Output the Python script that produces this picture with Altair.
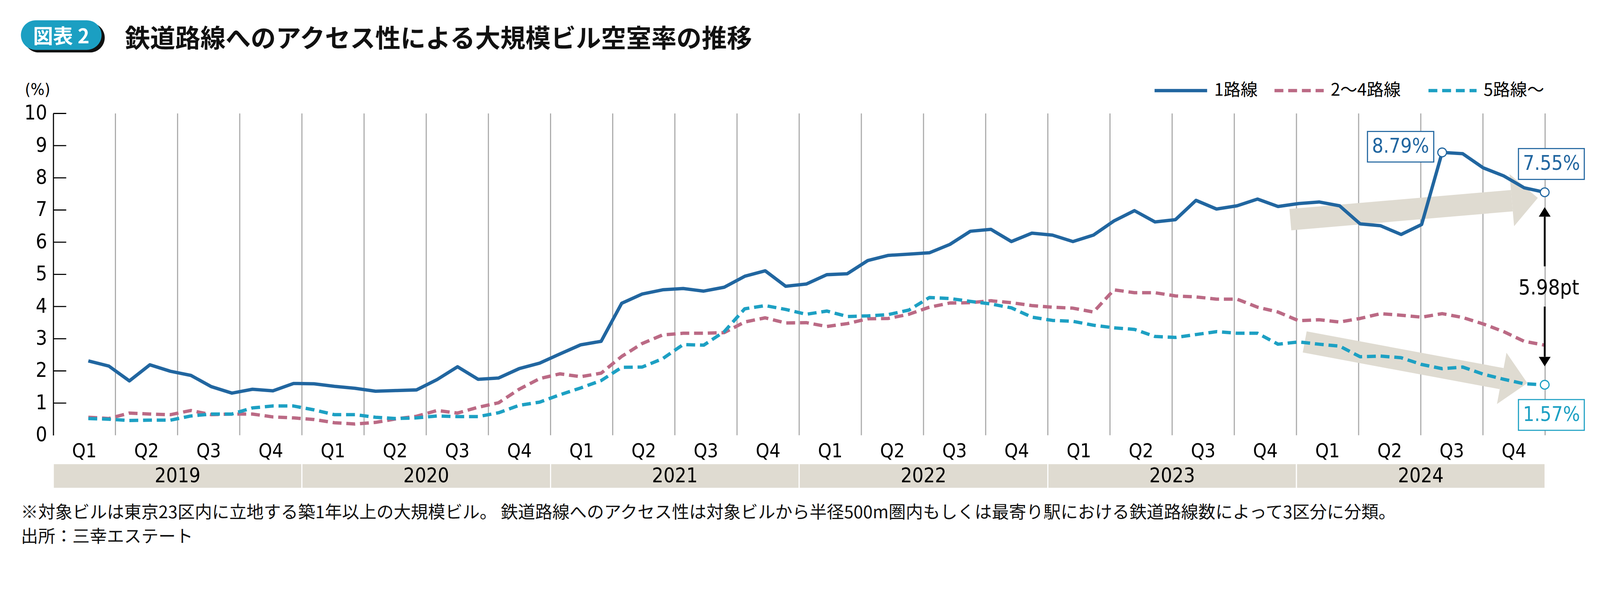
import altair as alt
import pandas as pd

# ---------------- data ----------------
months = list(range(72))  # Jan 2019 ... Dec 2024 (month index)

line1 = [2.31, 2.15, 1.69, 2.19, 1.99, 1.86, 1.51, 1.31, 1.43, 1.38, 1.61, 1.60,
         1.52, 1.46, 1.37, 1.39, 1.41, 1.73, 2.13, 1.74, 1.78, 2.07, 2.24, 2.53,
         2.81, 2.92, 4.10, 4.39, 4.52, 4.56, 4.48, 4.60, 4.94, 5.11, 4.63, 4.70,
         4.99, 5.02, 5.43, 5.59, 5.63, 5.67, 5.93, 6.34, 6.40, 6.02, 6.28, 6.22,
         6.02, 6.22, 6.66, 6.98, 6.63, 6.70, 7.30, 7.03, 7.13, 7.34, 7.11, 7.20,
         7.25, 7.13, 6.57, 6.51, 6.24, 6.55, 8.79, 8.75, 8.31, 8.06, 7.69, 7.55]

line2_4 = [0.56, 0.52, 0.69, 0.66, 0.64, 0.77, 0.64, 0.66, 0.66, 0.57, 0.54, 0.49,
           0.39, 0.35, 0.40, 0.51, 0.59, 0.77, 0.69, 0.87, 1.01, 1.43, 1.76, 1.91,
           1.82, 1.93, 2.45, 2.85, 3.12, 3.17, 3.17, 3.19, 3.52, 3.65, 3.49, 3.50,
           3.38, 3.47, 3.62, 3.63, 3.76, 3.98, 4.11, 4.12, 4.18, 4.12, 4.03, 3.98,
           3.95, 3.83, 4.52, 4.43, 4.43, 4.33, 4.30, 4.23, 4.23, 3.98, 3.83, 3.56,
           3.59, 3.52, 3.63, 3.78, 3.73, 3.67, 3.78, 3.66, 3.46, 3.22, 2.92, 2.80]

line5 = [0.52, 0.50, 0.46, 0.47, 0.47, 0.60, 0.66, 0.66, 0.85, 0.91, 0.91, 0.79,
         0.64, 0.64, 0.56, 0.52, 0.54, 0.60, 0.58, 0.58, 0.70, 0.93, 1.03, 1.26,
         1.47, 1.70, 2.11, 2.12, 2.38, 2.82, 2.80, 3.22, 3.93, 4.03, 3.91, 3.76,
         3.86, 3.69, 3.71, 3.75, 3.89, 4.28, 4.25, 4.16, 4.08, 3.96, 3.67, 3.57,
         3.54, 3.42, 3.34, 3.29, 3.07, 3.04, 3.13, 3.22, 3.17, 3.17, 2.83, 2.90,
         2.83, 2.77, 2.44, 2.46, 2.41, 2.20, 2.07, 2.12, 1.90, 1.74, 1.60, 1.57]

series_names = ["1路線", "2～4路線", "5路線～"]
quarter_labels = ["Q1", "Q2", "Q3", "Q4"] * 6
quarter_centers = [k + 0.5 for k in range(24)]
quarter_bounds = list(range(1, 25))
years = ["2019", "2020", "2021", "2022", "2023", "2024"]
year_start = [0, 4, 8, 12, 16, 20]
year_end = [4, 8, 12, 16, 20, 24]
year_center = [2, 6, 10, 14, 18, 22]
y_ticks = list(range(0, 11))

# highlighted points / labels
hl_month = [66, 71, 71]
hl_value = [8.79, 7.55, 1.57]
hl_text = ["8.79%", "7.55%", "1.57%"]
gap_text = "5.98pt"

title_text = "鉄道路線へのアクセス性による大規模ビル空室率の推移"
badge_text = "図表 2"
note_text = ("※対象ビルは東京23区内に立地する築1年以上の大規模ビル。 "
             "鉄道路線へのアクセス性は対象ビルから半径500m圏内もしくは最寄り駅における鉄道路線数によって3区分に分類。")
source_text = "出所：三幸エステート"

# ---------------- styles ----------------
W, H = 4146.5, 869.7
BLUE, PINK, CYAN = "#2166a0", "#bb6a85", "#1da0c3"
BEIGE = "#dfdbd1"
GRID = "#a9a9a9"
NUM_FONT = "Liberation Sans Narrow, DejaVu Sans Condensed, Roboto, sans-serif"
JP_FONT = "Noto Sans CJK JP, Noto Sans, sans-serif"
DASH = [24, 13]

mscale = alt.Scale(domain=[-1.709, 73.11], nice=False, zero=False)
qscale = alt.Scale(domain=[0, 24.69], nice=False, zero=False)
yscale = alt.Scale(domain=[0, 10], nice=False, zero=False)

Y_AXIS = alt.Axis(
    values=y_ticks, title="(%)", titleAngle=0, titleX=-43, titleY=-64,
    titleAlign="center", titleBaseline="middle", titleFontSize=44,
    titleFont=NUM_FONT, titleFontWeight="normal", titleColor="black",
    labelFont=NUM_FONT, labelFontSize=54, labelColor="black", labelPadding=17,
    ticks=False, domain=True, domainColor="black", domainWidth=3, grid=False)


def MX(f):
    return alt.X(f, type="quantitative", scale=mscale, axis=None)


def QX(f):
    return alt.X(f, type="quantitative", scale=qscale, axis=None)


def VY(f):
    return alt.Y(f, type="quantitative", scale=yscale, axis=Y_AXIS)


one = pd.DataFrame({"a": [0]})
layers = []

# year bands
band_df = pd.DataFrame({"q0": year_start, "q1": year_end, "qc": year_center, "year": years})
layers.append(alt.Chart(band_df).mark_rect(fill=BEIGE, stroke="white", strokeWidth=3).encode(
    x=QX("q0"), x2="q1", y=alt.value(946.2), y2=alt.value(1013.2)))
layers.append(alt.Chart(band_df).mark_text(font=NUM_FONT, fontSize=54, color="black",
                                           baseline="middle", align="center").encode(
    x=QX("qc"), y=alt.value(981.2), text="year:N"))

# quarter gridlines & labels
grid_df = pd.DataFrame({"q": quarter_bounds})
layers.append(alt.Chart(grid_df).mark_rule(color=GRID, strokeWidth=3).encode(
    x=QX("q"), y=alt.value(0), y2=alt.value(H)))
ql_df = pd.DataFrame({"q": quarter_centers, "lab": quarter_labels})
layers.append(alt.Chart(ql_df).mark_text(font=NUM_FONT, fontSize=52, color="black",
                                         baseline="middle", align="center").encode(
    x=QX("q"), y=alt.value(913.2), text="lab:N"))

# y axis + inward ticks
tick_df = pd.DataFrame({"t": y_ticks})
layers.append(alt.Chart(tick_df).transform_filter("datum.t > 0").mark_rule(
    color="black", strokeWidth=3).encode(
    y=VY("t"), x=alt.value(0), x2=alt.value(35)))

# beige trend arrows (shaft + head)
arrow_df = pd.DataFrame({
    "x1": [58.6, 59.3], "y1": [6.70, 2.90],
    "x2": [69.4, 68.9], "y2": [7.29, 1.76],
    "hx": [70.03, 69.53], "hy": [7.34, 1.695], "ang": [355.0, 10.5]})
layers.append(alt.Chart(arrow_df).mark_rule(color=BEIGE, strokeWidth=58, strokeCap="butt").encode(
    x=MX("x1"), y=VY("y1"), x2="x2", y2="y2"))
layers.append(alt.Chart(arrow_df).mark_point(
    shape="M -0.5 -1 L 0.5 0 L -0.5 1 Z", filled=True, color=BEIGE, opacity=1, size=19881).encode(
    x=MX("hx"), y=VY("hy"), angle=alt.Angle("ang:Q", scale=None)))

# series lines (dashed first, solid on top)
for vals, col, dash in [(line2_4, PINK, DASH), (line5, CYAN, DASH), (line1, BLUE, None)]:
    d = pd.DataFrame({"m": months, "v": vals})
    kw = dict(color=col, strokeWidth=9, strokeJoin="round", strokeCap="butt")
    if dash:
        kw["strokeDash"] = dash
    layers.append(alt.Chart(d).mark_line(**kw).encode(x=MX("m"), y=VY("v")))

# black double arrow for the gap
gap_df = pd.DataFrame({"x": [71, 71], "y1": [6.79, 4.00], "y2": [5.25, 2.44]})
layers.append(alt.Chart(gap_df).mark_rule(color="black", strokeWidth=5).encode(
    x=MX("x"), y=VY("y1"), y2="y2"))
layers.append(alt.Chart(pd.DataFrame({"x": [71], "y": [6.94]})).mark_point(
    shape="M 0 -0.8 L 1 0.8 L -1 0.8 Z", filled=True, color="black", opacity=1, size=1024).encode(
    x=MX("x"), y=VY("y")))
layers.append(alt.Chart(pd.DataFrame({"x": [71], "y": [2.29]})).mark_point(
    shape="M 0 0.8 L 1 -0.8 L -1 -0.8 Z", filled=True, color="black", opacity=1, size=1024).encode(
    x=MX("x"), y=VY("y")))
layers.append(alt.Chart(pd.DataFrame({"x": [71.2], "y": [4.57], "t": [gap_text]})).mark_text(
    font=NUM_FONT, fontSize=56, color="black", align="center", baseline="middle").encode(
    x=MX("x"), y=VY("y"), text="t:N"))

# highlighted points
hl_col = [BLUE, BLUE, CYAN]
hl_df = pd.DataFrame({"m": hl_month, "v": hl_value, "c": hl_col})
layers.append(alt.Chart(hl_df).mark_point(shape="circle", filled=True, fill="white", opacity=1,
                                          strokeWidth=3, size=560).encode(
    x=MX("m"), y=VY("v"), stroke=alt.Stroke("c:N", scale=None)))

# value label boxes
box_df = pd.DataFrame({
    "bx1": [62.36, 69.72, 69.72], "bx2": [65.59, 72.93, 72.93],
    "by1": [9.44, 8.91, 1.11], "by2": [8.49, 7.95, 0.155],
    "tx": [63.97, 71.33, 71.33], "ty": [8.965, 8.43, 0.63],
    "t": hl_text, "c": hl_col})
layers.append(alt.Chart(box_df).mark_rect(fill="white", strokeWidth=3).encode(
    x=MX("bx1"), x2="bx2", y=VY("by1"), y2="by2", stroke=alt.Stroke("c:N", scale=None)))
layers.append(alt.Chart(box_df).mark_text(font=NUM_FONT, fontSize=54, align="center",
                                          baseline="middle").encode(
    x=MX("tx"), y=VY("ty"), text="t:N", color=alt.Color("c:N", scale=None)))

# legend (manual)
leg_y = -61.8
leg = [
    (series_names[0], BLUE, None, 2975.5, 3117.5, 3136.5),
    (series_names[1], PINK, DASH, 3299.5, 3432.5, 3451.5),
    (series_names[2], CYAN, DASH, 3715.5, 3845.5, 3864.5),
]
for name, col, dash, x0, x1, tx in leg:
    kw = dict(color=col, strokeWidth=9, strokeCap="butt")
    if dash:
        kw["strokeDash"] = dash
    layers.append(alt.Chart(one).mark_rule(**kw).encode(
        x=alt.value(x0), x2=alt.value(x1), y=alt.value(leg_y)))
    layers.append(alt.Chart(pd.DataFrame({"t": [name]})).mark_text(
        font=JP_FONT, fontSize=46, color="black", align="left", baseline="middle").encode(
        x=alt.value(tx), y=alt.value(leg_y), text="t:N"))

# title badge
layers.append(alt.Chart(one).mark_rect(fill="#111111", cornerRadius=40).encode(
    x=alt.value(-79.0), x2=alt.value(139.0), y=alt.value(-244.8), y2=alt.value(-164.8)))
layers.append(alt.Chart(one).mark_rect(fill="#1b9fc2", cornerRadius=40).encode(
    x=alt.value(-87.5), x2=alt.value(130.5), y=alt.value(-251.8), y2=alt.value(-171.8)))
layers.append(alt.Chart(pd.DataFrame({"t": [badge_text]})).mark_text(
    font=JP_FONT, fontSize=54, fontWeight="bold", color="white", align="center",
    baseline="middle").encode(x=alt.value(21.5), y=alt.value(-205.0), text="t:N"))
layers.append(alt.Chart(pd.DataFrame({"t": [title_text]})).mark_text(
    font=JP_FONT, fontSize=68, fontWeight="bold", color="#111111", align="left",
    baseline="middle").encode(x=alt.value(193.5), y=alt.value(-199.0), text="t:N"))

# footnotes
layers.append(alt.Chart(pd.DataFrame({"t": [note_text]})).mark_text(
    font=JP_FONT, fontSize=46.5, color="#111111", align="left", baseline="middle").encode(
    x=alt.value(-87.5), y=alt.value(1080.2), text="t:N"))
layers.append(alt.Chart(pd.DataFrame({"t": [source_text]})).mark_text(
    font=JP_FONT, fontSize=46.5, color="#111111", align="left", baseline="middle").encode(
    x=alt.value(-87.5), y=alt.value(1145.2), text="t:N"))

chart = alt.layer(*layers).resolve_scale(x="independent").properties(
    width=W, height=H,
    padding={"left": 135.5, "top": 257.0, "right": 24, "bottom": 360},
    autosize=alt.AutoSizeParams(type="none"),
    background="white",
).configure_view(strokeWidth=0)

chart.save("out.html", embed_options={"renderer": "svg", "actions": False})
